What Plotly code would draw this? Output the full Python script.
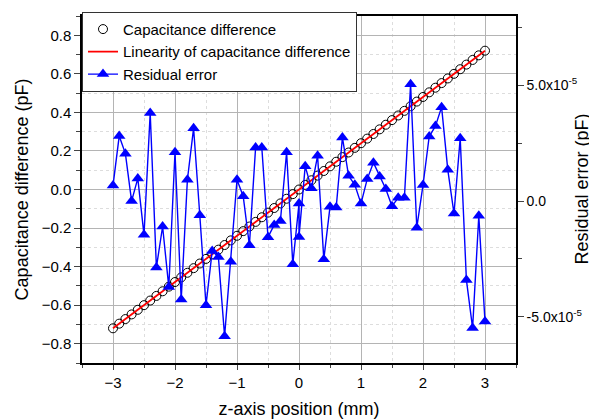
import plotly.graph_objs as go

# ----- z-axis positions (mm) for capacitance difference
z_pos = [-3.0, -2.9, -2.8, -2.7, -2.6, -2.5, -2.4, -2.3, -2.2, -2.1,
         -2.0, -1.9, -1.8, -1.7, -1.6, -1.5, -1.4, -1.3, -1.2, -1.1,
         -1.0, -0.9, -0.8, -0.7, -0.6, -0.5, -0.4, -0.3, -0.2, -0.1,
         0.0, 0.1, 0.2, 0.3, 0.4, 0.5, 0.6, 0.7, 0.8, 0.9,
         1.0, 1.1, 1.2, 1.3, 1.4, 1.5, 1.6, 1.7, 1.8, 1.9,
         2.0, 2.1, 2.2, 2.3, 2.4, 2.5, 2.6, 2.7, 2.8, 2.9, 3.0]

# ----- capacitance difference (pF)
cap_diff = [-0.720, -0.696, -0.672, -0.648, -0.624, -0.600, -0.576, -0.552, -0.528, -0.504,
            -0.480, -0.456, -0.432, -0.408, -0.384, -0.360, -0.336, -0.312, -0.288, -0.264,
            -0.240, -0.216, -0.192, -0.168, -0.144, -0.120, -0.096, -0.072, -0.048, -0.024,
            0.000, 0.024, 0.048, 0.072, 0.096, 0.120, 0.144, 0.168, 0.192, 0.216,
            0.240, 0.264, 0.288, 0.312, 0.336, 0.360, 0.384, 0.408, 0.432, 0.456,
            0.480, 0.504, 0.528, 0.552, 0.576, 0.600, 0.624, 0.648, 0.672, 0.696, 0.720]

# ----- linear fit end points
fit_z = [-3.0, 3.0]
fit_cap = [-0.720, 0.720]

# ----- residual error positions (two readings at 0.0 mm)
res_z = [-3.0, -2.9, -2.8, -2.7, -2.6, -2.5, -2.4, -2.3, -2.2, -2.1,
         -2.0, -1.9, -1.8, -1.7, -1.6, -1.5, -1.4, -1.3, -1.2, -1.1,
         -1.0, -0.9, -0.8, -0.7, -0.6, -0.5, -0.4, -0.3, -0.2, -0.1,
         0.0, 0.0, 0.1, 0.2, 0.3, 0.4, 0.5, 0.6, 0.7, 0.8, 0.9,
         1.0, 1.1, 1.2, 1.3, 1.4, 1.5, 1.6, 1.7, 1.8, 1.9,
         2.0, 2.1, 2.2, 2.3, 2.4, 2.5, 2.6, 2.7, 2.8, 2.9, 3.0]

# ----- residual error, in units of 1e-5 pF
res_err = [0.67, 2.81, 2.05, 0.00, 0.98, -1.46, 3.81, -2.87, -1.10, -3.72,
           2.11, -4.26, 0.92, 3.15, -0.61, -4.50, -2.16, -2.42, -5.84, -2.62,
           0.92, 0.21, -1.91, 2.32, 2.32, -1.56, -1.03, -0.86, 2.11, -2.73,
           -0.11, -1.55, 1.51, 0.55, 1.96, -2.52, -0.25, -0.28, 2.75, 1.09, 0.70,
           -0.11, 0.95, 1.66, 1.06, 0.52, -0.22, 0.14, 0.14, 5.05, -1.15,
           0.69, 2.79, 3.24, 4.06, 1.35, -0.54, 2.72, -3.41, -5.49, -0.64, -5.21]
res_err_pf = [v * 1e-5 for v in res_err]

FONT = "Liberation Sans, Arial, sans-serif"

trace0 = go.Scatter(x=z_pos, y=cap_diff, mode='markers', name='Capacitance difference',
                    marker=dict(symbol='circle-open', size=9, color='black', line=dict(width=1)))
trace1 = go.Scatter(x=fit_z, y=fit_cap, mode='lines', name='Linearity of capacitance difference',
                    line=dict(color='red', width=1.8))
trace2 = go.Scatter(x=res_z, y=res_err_pf, mode='lines+markers', name='Residual error',
                    yaxis='y2', line=dict(color='#0000ff', width=1.4),
                    marker=dict(symbol='triangle-up', size=11, color='#0000ff'))

fig = go.Figure([trace0, trace1, trace2])

# the page body adds an 8px offset, so the figure is 8px smaller on each side
fig.update_layout(
    width=589, height=411,
    margin=dict(l=74, r=81, t=4, b=56),
    paper_bgcolor='white', plot_bgcolor='white',
    font=dict(family=FONT, size=15, color='black'),
    showlegend=True,
    legend=dict(x=0, y=1.012, xanchor='left', yanchor='top', bgcolor='white',
                bordercolor='#333', borderwidth=1, font=dict(size=15),
                tracegroupgap=0, itemwidth=30),
    xaxis=dict(range=[-3.5, 3.5], dtick=1, tick0=0, ticks='outside', ticklen=5,
               showline=True, linecolor='black', linewidth=1.5, mirror=True,
               showgrid=True, gridcolor='#b4b4b4', gridwidth=1, zeroline=False,
               tickfont=dict(size=15),
               minor=dict(dtick=0.5, ticks='outside', ticklen=3, showgrid=True,
                          gridcolor='#dddddd', griddash='dot'),
               title=dict(text='z-axis position (mm)', font=dict(size=18), standoff=22),
               automargin=False),
    yaxis=dict(range=[-0.9, 0.9], dtick=0.2, tick0=0, tickformat='.1f', ticks='outside',
               ticklen=6, showline=True, linecolor='black', linewidth=1.5,
               showgrid=True, gridcolor='#b4b4b4', gridwidth=1, zeroline=False,
               tickfont=dict(size=15),
               minor=dict(dtick=0.1, ticks='outside', ticklen=4, showgrid=True,
                          gridcolor='#dddddd', griddash='dot'),
               title=dict(text='Capacitance difference (pF)', font=dict(size=18), standoff=8),
               automargin=False),
    yaxis2=dict(overlaying='y', side='right', range=[-7e-5, 8e-5],
                tickvals=[-5e-5, 0, 5e-5],
                ticktext=['-5.0x10<sup>-5</sup>', '0.0', '5.0x10<sup>-5</sup>'],
                ticks='outside', ticklen=6, showline=True, linecolor='black', linewidth=1.5,
                showgrid=False, zeroline=False, tickfont=dict(size=14),
                minor=dict(dtick=2.5e-5, tick0=0, ticks='outside', ticklen=4, showgrid=False),
                automargin=False),
)

# --- right axis title placed by hand, it sits close to the tick labels
fig.add_annotation(text='Residual error (pF)', xref='paper', yref='paper', x=1, y=0.5,
                   xanchor='center', yanchor='middle', xshift=65, textangle=-90,
                   showarrow=False, font=dict(size=18))

fig.write_html("out.html")
